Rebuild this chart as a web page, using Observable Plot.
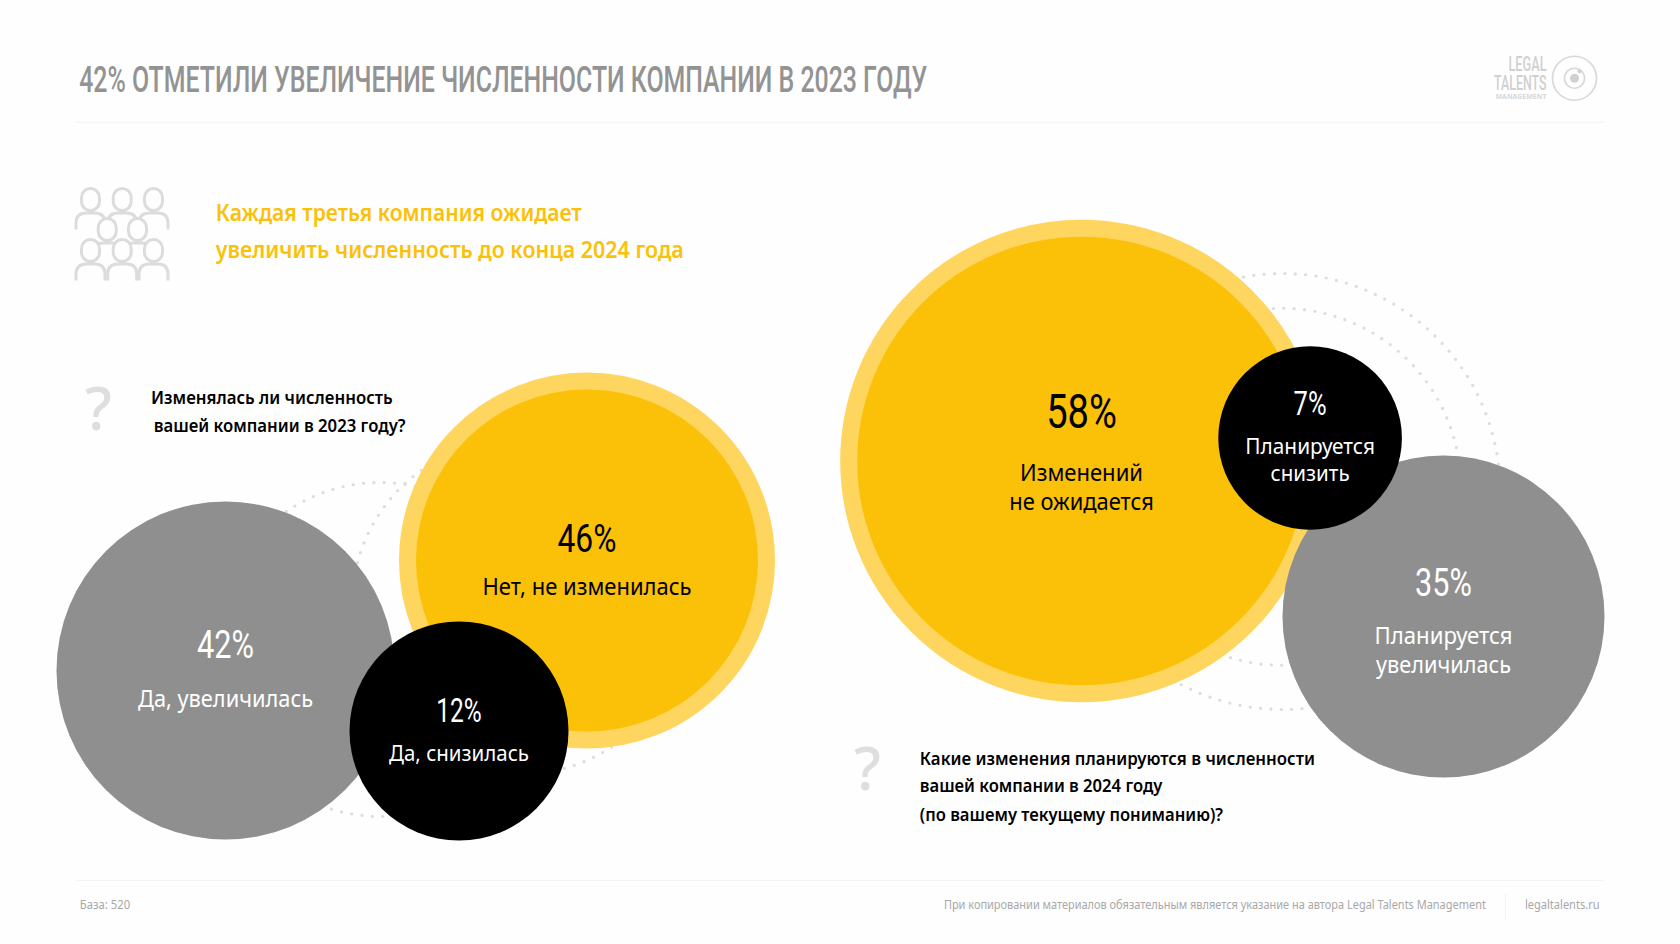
<!DOCTYPE html>
<html lang="ru">
<head>
<meta charset="utf-8">
<title>Численность компании</title>
<script src="https://cdn.jsdelivr.net/npm/d3@7"></script>
<script src="https://cdn.jsdelivr.net/npm/@observablehq/plot@0.6"></script>
<style>
  html, body { margin: 0; padding: 0; background: #fefefe; }
  svg { display: block; }
</style>
</head>
<body>
<div id="chart"></div>
<script>
// ---- values ----
const q2023Labels = ["Да, увеличилась", "Нет, не изменилась", "Да, снизилась"];
const q2023Values = [42, 46, 12];
const q2024Labels = [["Изменений", "не ожидается"], ["Планируется", "снизить"], ["Планируется", "увеличилась"]];
const q2024Values = [58, 7, 35];
const sampleBase = 520;

// ---- texts ----
const titleText = "42% ОТМЕТИЛИ УВЕЛИЧЕНИЕ ЧИСЛЕННОСТИ КОМПАНИИ В 2023 ГОДУ";
const headlineLines = ["Каждая третья компания ожидает", "увеличить численность до конца 2024 года"];
const q2023Question = ["Изменялась ли численность", "вашей компании в 2023 году?"];
const q2024Question = ["Какие изменения планируются в численности", "вашей компании в 2024 году", "(по вашему текущему пониманию)?"];
const footerLines = [`База: ${sampleBase}`, "При копировании материалов обязательным является указание на автора Legal Talents Management", "legaltalents.ru"];
const logoLines = ["LEGAL", "TALENTS", "MANAGEMENT"];

// ---- layout (page coordinates fed to the x / y scales) ----
const bubbleValues = [...q2023Values, ...q2024Values];
const bubbleX = [225, 586.5, 458.5, 1081, 1309.6, 1443];
const bubbleY = [670, 560, 730.5, 460.5, 437.5, 616];
const bubbleFill = ["#8f8f8f", "#fbc108", "#000000", "#fbc108", "#000000", "#8f8f8f"];
const radiusDomain = [7, 12, 35, 42, 46, 58];
const radiusRange = [91.8, 109.5, 161, 169, 171, 224.3];
const haloIndex = [1, 3];
const ringX = [380, 519, 1281.7, 1281.7];
const ringY = [649, 606, 491, 486.3];
const ringR = [167, 168, 218, 178.5];

const pctIndex = [0, 1, 2, 3, 4, 5];
const pctY = [645.5, 539.5, 710.5, 411.5, 403.5, 583.2];
const pctSize = [39, 39, 33, 49, 34, 39];
const pctW = [57, 59, 45.5, 70.7, 33, 56.8];
const pctFill = ["#fff", "#000", "#fff", "#000", "#fff", "#fff"];

const catRows = [
  [q2023Labels[0], 225, 698.7, 175, "#fff", 23],
  [q2023Labels[1], 586.5, 587, 209, "#000", 23],
  [q2023Labels[2], 458.5, 754, 140, "#fff", 21],
  [q2024Labels[0][0], 1081, 473, 123, "#000", 24],
  [q2024Labels[0][1], 1081, 501.7, 144.6, "#000", 24],
  [q2024Labels[1][0], 1309.6, 446.5, 129.6, "#fff", 22],
  [q2024Labels[1][1], 1309.6, 473.5, 79, "#fff", 22],
  [q2024Labels[2][0], 1443, 636, 138, "#fff", 23],
  [q2024Labels[2][1], 1443, 665.5, 135, "#fff", 23]
];
const leftRows = [
  [headlineLines[0], 215.3, 213.5, 366, "#fbc108", 23, 600],
  [headlineLines[1], 215.3, 250.5, 468, "#fbc108", 23, 600],
  [q2023Question[0], 150.5, 397.7, 241.6, "#000", 18, 600],
  [q2023Question[1], 153.2, 425.7, 251.8, "#000", 18, 600],
  [q2024Question[0], 919.3, 758.7, 395.2, "#000", 18, 600],
  [q2024Question[1], 919.3, 786, 242.6, "#000", 18, 600],
  [q2024Question[2], 919.3, 814.7, 303.2, "#000", 18, 600],
  [footerLines[0], 79.3, 905, 50.3, "#a8a8a8", 12, 400],
  [footerLines[1], 943.4, 905, 542, "#a8a8a8", 12, 400],
  [footerLines[2], 1524.5, 905, 74.5, "#a8a8a8", 12, 400]
];
const questionMarkX = [98, 866.8];
const questionMarkY = [410, 770];

const personX = [90, 121.7, 153, 106.7, 137, 90, 121.7, 153];
const personY = [199.5, 199.5, 199.5, 229.5, 229.5, 250.5, 250.5, 250.5];
const logoRingR = [22, 10];
const logoX = 1574, logoY = 77.7;

const bodyFont = "'Noto Sans', sans-serif";
const narrowFont = "Roboto, sans-serif";

// ---- helpers ----
// Fits each text to its measured width in the reference.
const fit = (widths) => function (index, scales, values, dimensions, context, next) {
  const g = next(index, scales, values, dimensions, context);
  d3.select(g).selectAll("text").each(function (_, k) {
    const w = widths[index[k]];
    if (w) { this.setAttribute("textLength", w); this.setAttribute("lengthAdjust", "spacingAndGlyphs"); }
  });
  return g;
};
const person = {
  draw(c) {
    c.moveTo(-9, -2.5);
    c.arc(0, -2.5, 9, Math.PI, 0);
    c.lineTo(9, 1.5);
    c.arc(0, 1.5, 9, 0, Math.PI);
    c.closePath();
    c.moveTo(-14.5, 29.5);
    c.lineTo(-14.5, 23);
    c.quadraticCurveTo(-14.5, 13, -4, 13);
    c.lineTo(4, 13);
    c.quadraticCurveTo(14.5, 13, 14.5, 23);
    c.lineTo(14.5, 29.5);
  }
};

const marks = [
  // frame rules
  Plot.ruleY([122, 880], {x1: 75, x2: 1604, stroke: "#f5f5f5", strokeWidth: 1.2}),
  Plot.ruleX([1505], {y1: 894, y2: 919, stroke: "#f3f3f3"}),

  // dotted rings (constant radii, not on the value scale)
  ...ringR.map((radius, i) => Plot.dot([i], {x: ringX[i], y: ringY[i], r: radius, fill: "none",
    stroke: "#dcdcdc", strokeWidth: 3.2, strokeDasharray: "0 10.4", strokeLinecap: "round"})),

  // halo behind the yellow bubbles
  Plot.dot(haloIndex, {x: i => bubbleX[i], y: i => bubbleY[i], r: i => bubbleValues[i], fill: "none",
    stroke: "#fdd55f", strokeWidth: 34}),
];

// bubbles: yellow first, then grey, then black
for (const i of [1, 3, 0, 5, 2, 4]) {
  marks.push(Plot.dot([i], {x: k => bubbleX[k], y: k => bubbleY[k], r: k => bubbleValues[k], fill: bubbleFill[i], stroke: "none"}));
}

marks.push(
  // percent labels
  ...pctIndex.map(i => Plot.text([i], {x: bubbleX[i], y: pctY[i], text: k => `${bubbleValues[k]}%`,
    fill: pctFill[i], fontSize: pctSize[i], fontWeight: 400, fontFamily: narrowFont, textAnchor: "middle", render: fit([pctW[i]])})),
  // category labels
  ...[23, 21, 24, 22].map(size => {
    const rows = catRows.filter(d => d[5] === size);
    return Plot.text(rows, {x: d => d[1], y: d => d[2], text: d => d[0], fill: d => d[4], fontFamily: bodyFont,
      fontSize: size, textAnchor: "middle", render: fit(rows.map(d => d[3]))});
  }),

  // title
  Plot.text([titleText], {x: 78.7, y: 80, text: d => d, fill: "#939393", fontFamily: narrowFont, fontWeight: 500,
    fontSize: 36, textAnchor: "start", render: fit([848])}),

  // left-aligned paragraphs
  ...[[23, 600, [0, 1]], [18, 600, [2, 3, 4, 5, 6]], [12, 400, [7, 8, 9]]].map(([size, weight, ids]) =>
    Plot.text(ids.map(i => leftRows[i]), {x: d => d[1], y: d => d[2], text: d => d[0], fill: d => d[4],
      fontFamily: bodyFont, fontSize: size, fontWeight: weight, textAnchor: "start",
      render: fit(ids.map(i => leftRows[i][3]))})),

  // question marks
  Plot.text(questionMarkX, {x: d => d, y: (d, i) => questionMarkY[i], text: () => "?", fill: "#dedede",
    fontFamily: bodyFont, fontWeight: 500, fontSize: 60, textAnchor: "middle"}),

  // people icon
  Plot.dot(personX, {x: d => d, y: (d, i) => personY[i], symbol: () => person, fill: "#fefefe",
    stroke: "#dcdcdc", strokeWidth: 3, strokeLinecap: "butt"}),

  // logo
  ...logoRingR.map(radius => Plot.dot([radius], {x: logoX, y: logoY, r: radius, fill: "none", stroke: "#d8d8d8", strokeWidth: 1.6})),
  Plot.dot([1], {x: logoX, y: logoY, r: 4.5, fill: "#d0d0d0", stroke: "none"}),
  Plot.dot([1], {x: logoX + 5, y: logoY - 7, r: 2, fill: "#d0d0d0", stroke: "none"}),
  Plot.text([logoLines[0]], {x: 1508, y: 64, text: d => d, fill: "#d0d0d0", fontFamily: narrowFont, fontWeight: 500,
    fontSize: 21, textAnchor: "start", render: fit([38])}),
  Plot.text([logoLines[1]], {x: 1493.5, y: 83, text: d => d, fill: "#d0d0d0", fontFamily: narrowFont, fontWeight: 500,
    fontSize: 21, textAnchor: "start", render: fit([52.5])}),
  Plot.text([logoLines[2]], {x: 1495, y: 96.7, text: d => d, fill: "#d8d8d8", fontFamily: bodyFont, fontWeight: 700,
    fontSize: 6.5, textAnchor: "start", render: fit([51])})
);

const chart = Plot.plot({
  width: 1680,
  height: 944,
  margin: 0,
  style: {background: "#fefefe", overflow: "visible"},
  x: {domain: [0, 1680], range: [0, 1680], axis: null},
  y: {domain: [0, 944], range: [0, 944], axis: null},
  r: {type: "linear", domain: radiusDomain, range: radiusRange},
  marks
});
document.getElementById("chart").append(chart);
</script>
</body>
</html>
